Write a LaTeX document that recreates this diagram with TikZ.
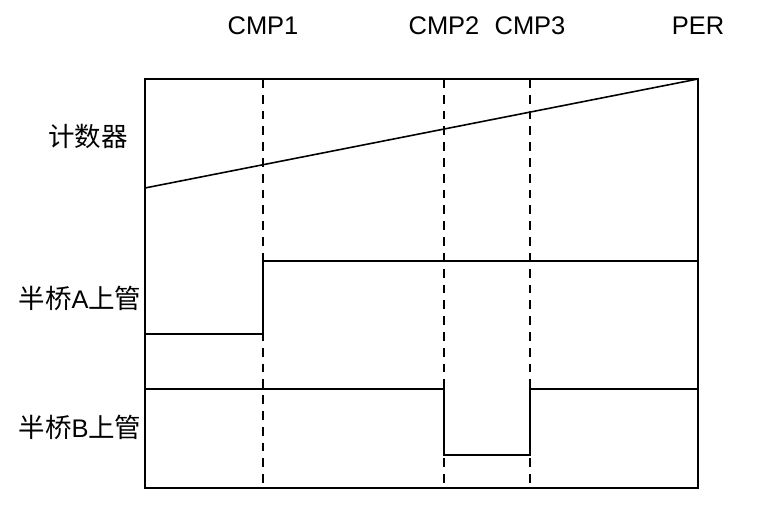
\documentclass[tikz,border=0pt]{standalone}
\usepackage{fontspec}
\setmainfont{Liberation Sans}
\newfontfamily\cjk{Noto Sans CJK SC}[Scale=1.04]
\usepackage{tikz}

\begin{document}
\begin{tikzpicture}[x=0.02cm,y=-0.02cm,line width=0.9pt]
\tikzstyle{every node}=[font=\fontsize{14.5}{17}\selectfont,inner sep=0pt]
\tikzstyle{mark line}=[dashed,dash pattern=on 5pt off 4pt]
\useasboundingbox (0,0) rectangle (775,516);
% frame
\coordinate (TL) at (145,79);
\coordinate (BR) at (698,488);
\draw (TL) rectangle (BR);
% compare points
\coordinate (C1) at (263,79);
\coordinate (C2) at (444,79);
\coordinate (C3) at (530,79);
\coordinate (PE) at (698,79);
\draw[mark line] (C1) -- (C1 |- BR);
\draw[mark line] (C2) -- (C2 |- BR);
\draw[mark line] (C3) -- (C3 |- BR);
\node (cmp1) at (263,26) {CMP1};
\node (cmp2) at (444,26) {CMP2};
\node (cmp3) at (530,26) {CMP3};
\node (per) at (698,26) {PER};
% counter
\coordinate (S) at (145,188);
\draw (S) -- (PE);
\node (cnt) at (88,136) {\cjk 计数器};
% half bridge A
\coordinate (A0) at (145,334);
\draw (A0) -- (A0 -| C1) -- ++(0,-73) -- (698,261);
\node (ha) at (80,298) {\cjk 半桥\rmfamily A\cjk 上管};
% half bridge B
\coordinate (B0) at (145,389);
\draw (B0) -- (B0 -| C2) -- ++(0,66) -- (530,455) -- (530,389) -- (698,389);
\node (hb) at (80,427) {\cjk 半桥\rmfamily B\cjk 上管};
\end{tikzpicture}
\end{document}
